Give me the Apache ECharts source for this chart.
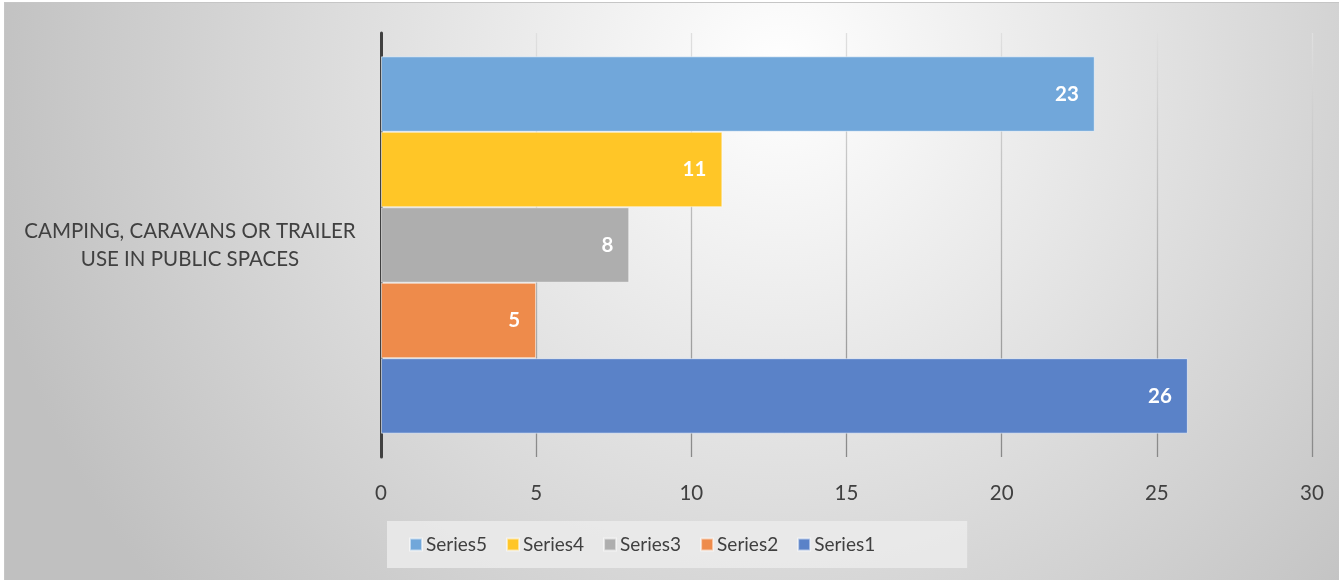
<!DOCTYPE html>
<html>
<head>
<meta charset="utf-8">
<script src="https://cdn.jsdelivr.net/npm/echarts@6/dist/echarts.min.js"></script>
<style>
html,body{margin:0;padding:0;background:#fff;width:1339px;height:580px;overflow:hidden;}
#c{position:absolute;left:4px;top:2px;width:1335px;height:578px;border-left:1px solid #c6c6c6;border-top:1px solid #c6c6c6;}
</style>
</head>
<body>
<div id="c"></div>
<script>
const categories = ['CAMPING, CARAVANS OR TRAILER\nUSE IN PUBLIC SPACES'];
const seriesNames = ['Series1', 'Series2', 'Series3', 'Series4', 'Series5'];
const series1 = [26];
const series2 = [5];
const series3 = [8];
const series4 = [11];
const series5 = [23];
const xTicks = [0, 5, 10, 15, 20, 25, 30];

const values = [series1, series2, series3, series4, series5];
const colors = ['#5A82C8', '#EE8B4B', '#AEAEAE', '#FFC627', '#71A7DA'];
const FONT = 'Lato';

// ECharts stacks grouped horizontal bars from the top for the first series,
// so the series are handed over in reverse order (Series5 first, at the top).
const order = [4, 3, 2, 1, 0];

const chart = echarts.init(document.getElementById('c'));
chart.setOption({
  backgroundColor: new echarts.graphic.RadialGradient(0.58, 0.12, 1.4, [
    {offset: 0, color: '#ffffff'},
    {offset: 1, color: '#c0c0c0'}
  ]),
  textStyle: {fontFamily: FONT},
  animation: false,
  grid: {left: 376, right: 28, top: 30, bottom: 124},
  xAxis: {
    type: 'value',
    min: xTicks[0],
    max: xTicks[xTicks.length - 1],
    interval: 5,
    axisLine: {show: false},
    axisTick: {show: false},
    axisLabel: {color: '#404040', fontSize: 20.5, fontFamily: FONT, margin: 26},
    splitLine: {
      show: true,
      lineStyle: {
        width: 1.3,
        color: new echarts.graphic.LinearGradient(0, 0, 0, 1, [
          {offset: 0, color: '#e0e0e0'},
          {offset: 1, color: '#888888'}
        ])
      }
    }
  },
  yAxis: {
    type: 'category',
    data: categories,
    axisLine: {show: true, lineStyle: {color: '#404040', width: 3}},
    axisTick: {show: false},
    axisLabel: {
      color: '#404040', fontSize: 20.5, fontFamily: FONT,
      margin: 191, align: 'center', lineHeight: 28
    }
  },
  legend: {
    data: seriesNames.slice().reverse(),
    left: 382, top: 518,
    padding: [14, 92, 14, 22],
    itemGap: 19,
    itemWidth: 12, itemHeight: 12,
    icon: 'rect',
    backgroundColor: 'rgba(235,235,235,0.85)',
    textStyle: {color: '#404040', fontSize: 19, fontFamily: FONT, padding: [0, 0, 0, -1]}
  },
  series: order.map(i => ({
    name: seriesNames[i],
    type: 'bar',
    data: values[i],
    barGap: '0%',
    barCategoryGap: '11%',
    itemStyle: {color: colors[i], borderColor: 'rgba(255,255,255,0.55)', borderWidth: 1},
    label: {
      show: true,
      position: 'insideRight',
      distance: 16,
      color: '#ffffff',
      fontWeight: 'bold',
      fontSize: 20.5,
      fontFamily: FONT
    }
  }))
});
</script>
</body>
</html>
